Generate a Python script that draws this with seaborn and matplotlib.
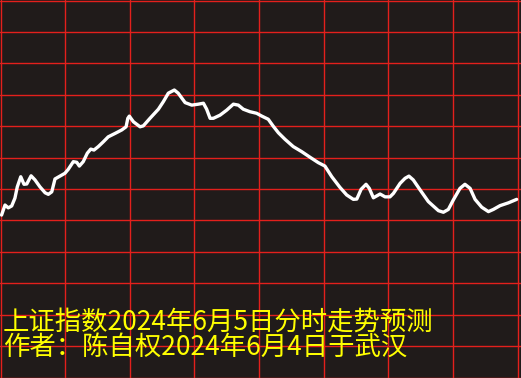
import matplotlib
matplotlib.use("Agg")
import matplotlib.pyplot as plt
import seaborn as sns
import pandas as pd

# Minutes since the open (240-minute trading session) and index level in grid units
minutes = [0.5, 2.1, 3.6, 5.2, 6.7, 7.8, 9.4, 10.9, 12.2, 14.2, 16.0, 18.3, 20.7, 22.2, 23.8,
           25.3, 27.6, 29.9, 31.5, 33.8, 35.4, 36.6, 38.4, 40.3, 41.9, 43.4, 45.4, 47.7, 50.0,
           53.2, 56.3, 58.3, 59.1, 59.8, 61.7, 64.8, 66.3, 69.4, 73.3, 75.6, 77.9, 80.7, 82.5,
           85.7, 88.8, 91.8, 94.2, 95.7, 97.3, 98.8, 101.9, 105.0, 108.1, 110.4, 112.7, 115.8,
           118.9, 121.3, 124.3, 126.6, 129.0, 132.1, 135.9, 139.8, 143.7, 147.5, 150.6, 153.8,
           157.6, 160.7, 163.8, 165.4, 167.4, 169.7, 171.2, 173.1, 176.2, 178.5, 180.8, 182.4,
           185.5, 187.8, 189.6, 191.6, 194.8, 198.6, 203.3, 205.6, 207.9, 210.2, 213.3, 215.6,
           218.0, 220.3, 223.4, 226.5, 228.8, 231.9, 235.8, 239.6]
level = [5.17, 5.49, 5.40, 5.46, 5.71, 6.07, 6.39, 6.15, 6.16, 6.42, 6.29, 6.07, 5.88, 5.83, 5.91,
         6.32, 6.41, 6.50, 6.63, 6.87, 6.85, 6.73, 6.87, 7.14, 7.27, 7.24, 7.35, 7.50, 7.66,
         7.77, 7.88, 7.98, 8.25, 8.32, 8.14, 7.98, 8.01, 8.25, 8.54, 8.78, 9.05, 9.15, 9.05,
         8.75, 8.67, 8.70, 8.73, 8.54, 8.25, 8.25, 8.35, 8.51, 8.70, 8.67, 8.54, 8.46,
         8.41, 8.32, 8.22, 8.00, 7.79, 7.58, 7.35, 7.19, 7.01, 6.84, 6.73, 6.39,
         6.05, 5.81, 5.67, 5.68, 5.99, 6.15, 6.02, 5.72, 5.84, 5.75, 5.75, 5.86,
         6.18, 6.34, 6.41, 6.29, 5.97, 5.60, 5.31, 5.26, 5.35, 5.65, 6.02, 6.15,
         6.02, 5.67, 5.42, 5.28, 5.35, 5.47, 5.56, 5.67]

x_grid = list(range(0, 241, 30))
y_grid = list(range(0, 13))

title_line = "上证指数2024年6月5日分时走势预测"
author_line = "作者：陈自权2024年6月4日于武汉"

BG = "#201b1a"
RED = "#e3201c"

sns.set_theme(style="dark")
plt.rcParams["font.family"] = ["Noto Sans CJK SC", "DejaVu Sans"]

df = pd.DataFrame({"minute": minutes, "level": level})

fig = plt.figure(figsize=(5.21, 3.78), dpi=100, facecolor=BG)
ax = fig.add_axes([0, 0, 1, 1])
ax.set_facecolor(BG)

sns.lineplot(data=df, x="minute", y="level", ax=ax, color="white", linewidth=2.4,
             solid_capstyle="round", solid_joinstyle="round", zorder=3)

px_per_min = 517.0 / 240.0
ax.set_xlim(-0.5 / px_per_min, 520.5 / px_per_min)
row = 377.0 / 12.0
ax.set_ylim((377.5 - 378.0) / row, 377.5 / row)

ax.set_xticks(x_grid)
ax.set_yticks(y_grid)
ax.set_xticklabels([])
ax.set_yticklabels([])
ax.tick_params(length=0)
ax.grid(True, color=RED, linewidth=1.0)
ax.set_axisbelow(True)
ax.set_xlabel("")
ax.set_ylabel("")
for s in ax.spines.values():
    s.set_visible(False)

fig.text(3 / 521, 1 - 330 / 378, title_line, color="#ffff00", fontsize=19,
         ha="left", va="baseline")
fig.text(3 / 521, 1 - 355 / 378, author_line, color="#ffff00", fontsize=19,
         ha="left", va="baseline")

fig.savefig("out.png", dpi=100, facecolor=BG)
